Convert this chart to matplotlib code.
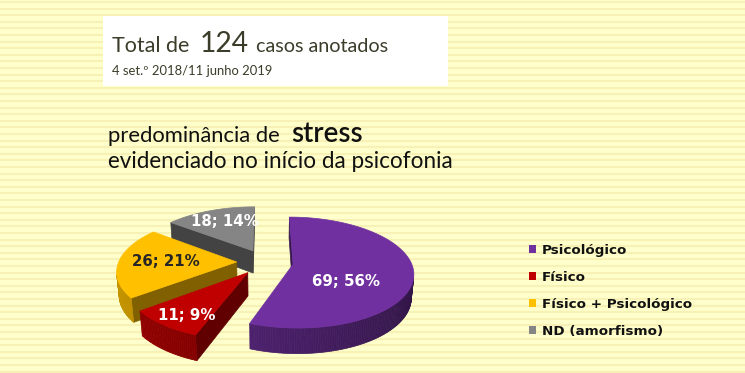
import matplotlib
matplotlib.use("Agg")
import matplotlib.pyplot as plt
import numpy as np
from matplotlib.colors import to_rgb
from matplotlib.patches import Patch, Polygon, Rectangle

# values
categories = ["Psicológico", "Físico", "Físico + Psicológico", "ND (amorfismo)"]
counts = [69, 11, 26, 18]
percent_labels = ["56%", "9%", "21%", "14%"]
slice_colors = ["#7030A0", "#C00000", "#FFC000", "#858585"]
label_colors = ["white", "white", "#262626", "white"]

total_parts = ["Total de", "124", "casos anotados"]
period_text = "4 set.º 2018/11 junho 2019"
headline_parts = ["predominância de", "stress"]
headline2 = "evidenciado no início da psicofonia"

W, H = 745, 373
BG = "#FFFFCB"
STRIPE = "#F7F1B6"
FONT = "Lato"
BOLD_FONT = "DejaVu Sans"

# 3d pie layout (centre / radius in pixels, the rest in radius units)
CX, CY, R = 265, 262, 118
TILT = np.radians(27)
DIST = 6.0
DEPTH = 0.22
EXPLODE = 0.24
LABEL_POS = [(0.45, -0.12), (0.75, -0.04), (0.6, 0.0), (0.62, 0.03)]
CAMERA = np.array([0.0, -DIST * np.cos(TILT), DIST * np.sin(TILT)])


def project(X, Y, Z):
    X, Y, Z = np.asarray(X, float), np.asarray(Y, float), np.asarray(Z, float)
    yv = Y * np.sin(TILT) + Z * np.cos(TILT)
    w = Y * np.cos(TILT) - Z * np.sin(TILT)
    s = DIST / (DIST + w)
    return CX + R * X * s, CY - R * yv * s


def shade(color, f):
    return tuple(np.clip(np.array(to_rgb(color)) * f, 0, 1))


def visible(point, normal):
    return np.dot(normal, CAMERA - point) > 0


def add_face(ax, X, Y, Z, color, z):
    sx, sy = project(X, Y, Z)
    ax.add_patch(Polygon(np.column_stack([sx, sy]), closed=True,
                         fc=color, ec=color, lw=0.5, zorder=z))


def draw_slice(ax, a, b, color, z):
    m = np.radians((a + b) / 2)
    ox, oy = EXPLODE * np.cos(m), EXPLODE * np.sin(m)
    t = np.radians(np.linspace(a, b, int(abs(b - a)) + 2))
    ex, ey = ox + np.cos(t), oy + np.sin(t)

    # radial cut faces
    for ang, sgn in ((np.radians(a), -1), (np.radians(b), 1)):
        n = np.array([np.cos(ang + sgn * np.pi / 2), np.sin(ang + sgn * np.pi / 2), 0])
        mid = np.array([ox + 0.5 * np.cos(ang), oy + 0.5 * np.sin(ang), -DEPTH / 2])
        if visible(mid, n):
            c, s = np.cos(ang), np.sin(ang)
            add_face(ax, [ox, ox + c, ox + c, ox], [oy, oy + s, oy + s, oy],
                     [0, 0, -DEPTH, -DEPTH], shade(color, 0.5), z)

    # outer wall, lit from the left
    for i in range(len(t) - 1):
        tm = (t[i] + t[i + 1]) / 2
        n = np.array([np.cos(tm), np.sin(tm), 0])
        if not visible(np.array([ox + np.cos(tm), oy + np.sin(tm), -DEPTH / 2]), n):
            continue
        f = 0.6 + 0.17 * np.cos(tm - np.radians(-170))
        add_face(ax, [ex[i], ex[i + 1], ex[i + 1], ex[i]],
                 [ey[i], ey[i + 1], ey[i + 1], ey[i]],
                 [0, 0, -DEPTH, -DEPTH], shade(color, f), z + 0.1)

    # top face
    add_face(ax, np.r_[ox, ex], np.r_[oy, ey], np.zeros(len(ex) + 1), color, z + 0.2)
    return m, ox, oy


fig = plt.figure(figsize=(W / 100, H / 100), dpi=100)
fig.patch.set_facecolor(BG)
ax = fig.add_axes([0, 0, 1, 1])
ax.set_xlim(0, W)
ax.set_ylim(H, 0)
ax.axis("off")

# notepad stripes
for y in np.arange(2, H, 6.6):
    ax.axhline(y, color=STRIPE, lw=1.5, zorder=0)

# header box
ax.add_patch(Rectangle((103, 16), 345, 70, fc="white", ec="none", zorder=1))

fig.canvas.draw()
rend = fig.canvas.get_renderer()


def fitted(x, y, s, width, **kw):
    # text whose font size is scaled so it spans `width` pixels
    txt = ax.text(x, y, s, ha="left", va="baseline", zorder=5, **kw)
    w = txt.get_window_extent(renderer=rend).width
    txt.set_fontsize(txt.get_fontsize() * width / w)
    return txt


title_col = "#3C3C2A"
ax.text(112, 52, total_parts[0], fontsize=15.5, color=title_col, family=FONT,
        ha="left", va="baseline", zorder=5)
fitted(200, 52, total_parts[1], 49, fontsize=21, color=title_col, family=FONT)
ax.text(256, 52, total_parts[2], fontsize=14.2, color=title_col, family=FONT,
        ha="left", va="baseline", zorder=5)
fitted(112, 75, period_text, 161, fontsize=9, color=title_col, family=FONT)

fitted(108, 142, headline_parts[0], 172, fontsize=15, color="#111111", family=FONT)
fitted(291, 142, headline_parts[1], 71, fontsize=19, color="#111111", family=FONT,
       weight="semibold")
fitted(108, 168, headline2, 344, fontsize=15, color="#111111", family=FONT)

# 3d pie, first slice starts at 12 o'clock, clockwise
total = sum(counts)
start = 90.0
slices = []
for i, c in enumerate(counts):
    sweep = c / total * 360
    slices.append((i, start - sweep, start))
    start -= sweep

# back slices first
order = sorted(slices, key=lambda s: -np.sin(np.radians((s[1] + s[2]) / 2)))
for k, (i, a, b) in enumerate(order):
    m, ox, oy = draw_slice(ax, a, b, slice_colors[i], 2 + k)
    f, zl = LABEL_POS[i]
    lx, ly = project(ox + f * np.cos(m), oy + f * np.sin(m), zl)
    ax.text(lx, ly, f"{counts[i]}; {percent_labels[i]}", ha="center", va="center",
            fontsize=10.8, weight="bold", color=label_colors[i], family=BOLD_FONT,
            zorder=20)

handles = [Patch(fc=c, ec="none") for c in slice_colors]
ax.legend(handles, categories, loc="upper left", bbox_to_anchor=(522 / W, 1 - 237 / H),
          frameon=False, prop=dict(family=BOLD_FONT, weight="bold", size=9.7),
          handlelength=0.55, handleheight=0.55, handletextpad=0.4,
          labelspacing=1.05, borderpad=0, labelcolor="#111111")

fig.savefig("out.png", dpi=100, facecolor=BG)
